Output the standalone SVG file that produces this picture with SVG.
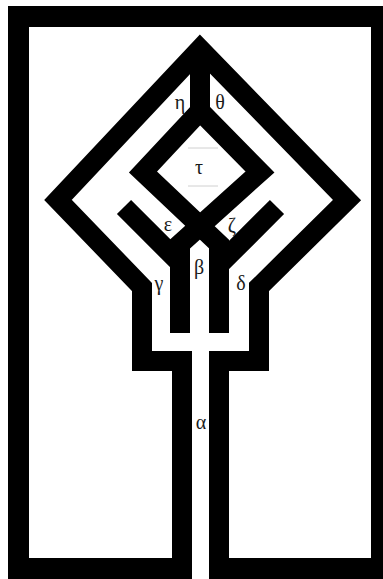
<svg xmlns="http://www.w3.org/2000/svg" width="383" height="579" viewBox="0 0 383 579">
<style>
.w{fill:none;stroke:#000;stroke-width:20;stroke-linejoin:miter;stroke-miterlimit:10;stroke-linecap:butt}
.f{fill:none;stroke:#000;stroke-width:21;stroke-linejoin:miter}
.t{font-family:"Liberation Serif","DejaVu Serif",serif;font-size:20px;fill:#1a1a1a;text-anchor:middle}
.a{fill:none;stroke:#d0d0d0;stroke-width:1}
</style>
<rect width="383" height="579" fill="#fff"/>
<g id="frame">
<path class="f" d="M192,568.5 H18.5 V16.5 H381.5 V568.5 H209"/>
</g>
<g id="walls">
<path class="w" d="M182,575 V361 H142 V287 L58,200 L200,49 L347,200 L259,287 V361 H219 V575"/>
<path class="w" d="M200,58 V125"/>
<path class="w" d="M200,111 L143,172 L219,244 V333"/>
<path class="w" d="M200,111 L260,172 L180,244 V333"/>
<path class="w" d="M124,207 L180,263 V300"/>
<path class="w" d="M277,207 L219,265 V300"/>
</g>
<g id="artifacts">
<line class="a" x1="188" y1="148" x2="218" y2="148"/>
<line class="a" x1="188" y1="186" x2="218" y2="186"/>
</g>
<g id="labels">
<text class="t" x="180" y="109">η</text>
<text class="t" x="220" y="109">θ</text>
<text class="t" x="199" y="174">τ</text>
<text class="t" x="168" y="231">ε</text>
<text class="t" x="232" y="232">ζ</text>
<text class="t" x="199" y="274">β</text>
<text class="t" x="159" y="290">γ</text>
<text class="t" x="241" y="290">δ</text>
<text class="t" x="201" y="429">α</text>
</g>
</svg>
